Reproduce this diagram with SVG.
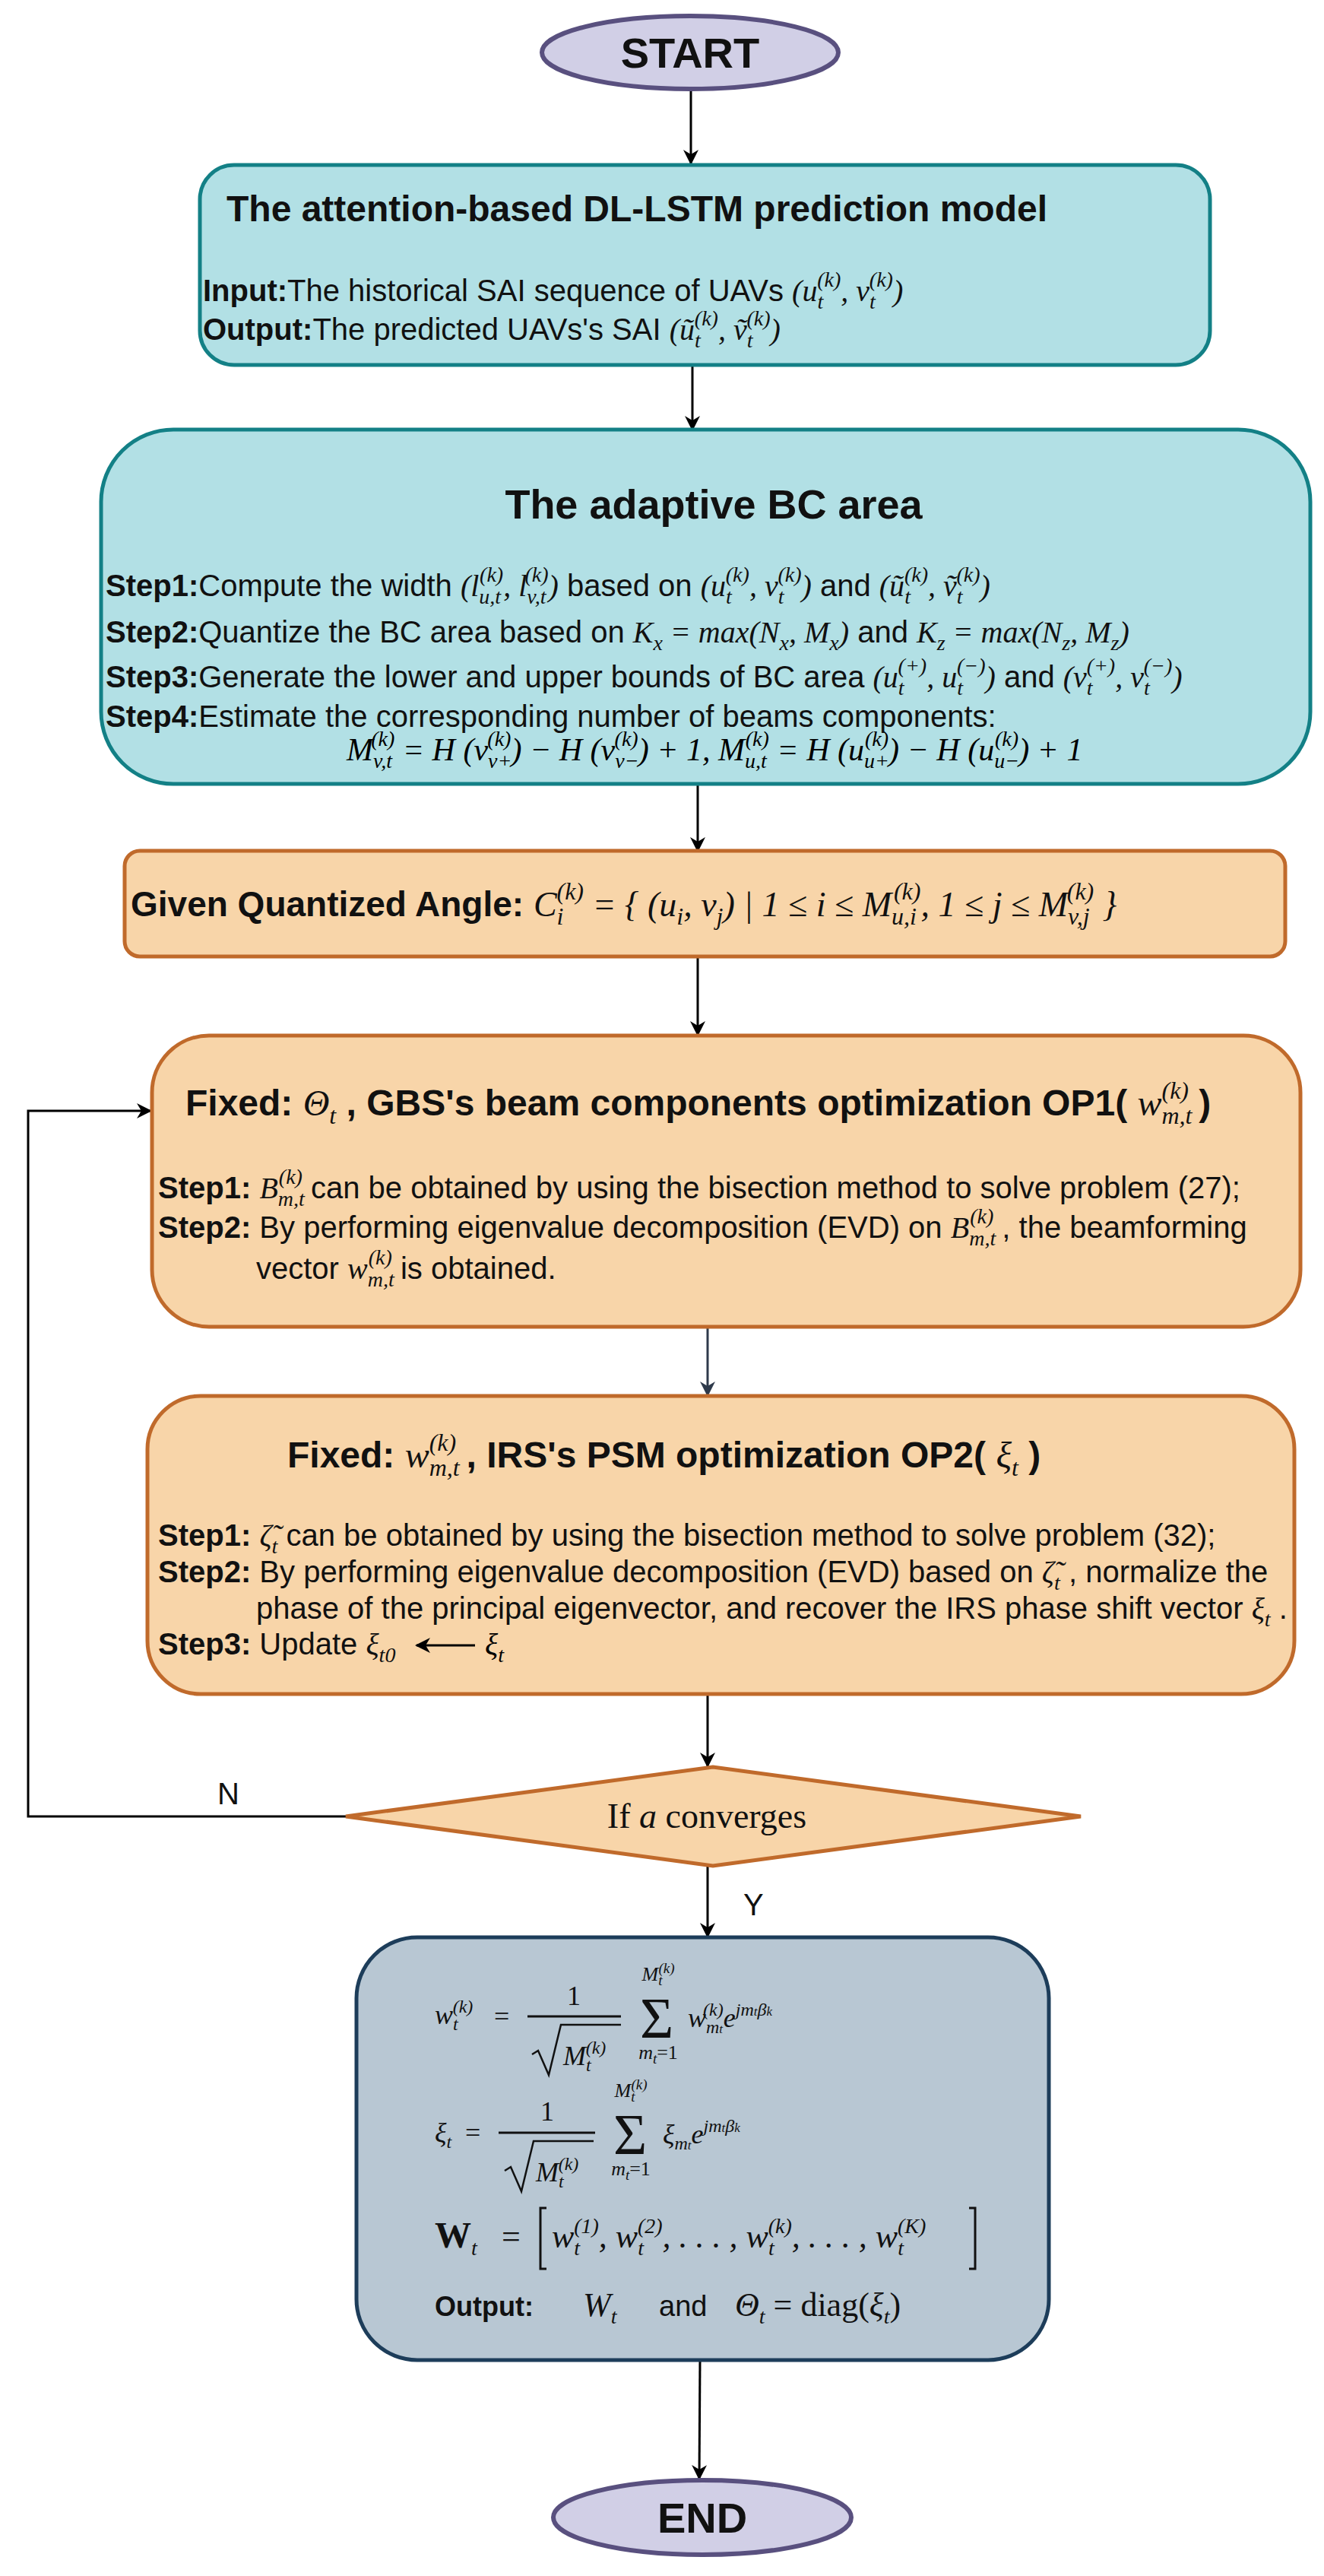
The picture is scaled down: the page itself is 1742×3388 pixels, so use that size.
<svg xmlns="http://www.w3.org/2000/svg" width="1742" height="3388" viewBox="0 0 1742 3388">
<defs>
<marker id="ah" viewBox="0 0 20 20" refX="18" refY="10" markerWidth="20" markerHeight="20" markerUnits="userSpaceOnUse" orient="auto"><path d="M0,0 L20,10 L0,20 L6,10 Z" fill="#000"/></marker>
<marker id="ah2" viewBox="0 0 20 20" refX="18" refY="10" markerWidth="20" markerHeight="20" markerUnits="userSpaceOnUse" orient="auto"><path d="M0,0 L20,10 L0,20 L6,10 Z" fill="#2e3a4b"/></marker>
<style>
.t{font-family:"Liberation Sans",Arial,sans-serif;fill:#111}
.b{font-weight:bold}
.m{font-family:"Liberation Serif","DejaVu Serif",serif;font-style:italic;font-weight:normal}
.n{font-style:normal}
.sp{font-size:24px;baseline-shift:15px}
.sb{font-size:24px;baseline-shift:-8px}
.sp2{font-size:28px;baseline-shift:19px}
.sb2{font-size:28px;baseline-shift:-10px}
.sp3{font-size:32px;baseline-shift:22px}
.sb3{font-size:32px;baseline-shift:-11px}
.teal{fill:#b2e0e5;stroke:#138086;stroke-width:5}
.org{fill:#f8d5a9;stroke:#c06a2b;stroke-width:5}
.ell{fill:#d1cfe6;stroke:#59507f;stroke-width:6}
.c{stroke:#000;stroke-width:3;fill:none}
</style>
</defs>
<g id="connectors">
<line class="c" x1="909" y1="118" x2="909" y2="215" marker-end="url(#ah)"/>
<line class="c" x1="911" y1="480" x2="911" y2="565" marker-end="url(#ah)"/>
<line class="c" x1="918" y1="1031" x2="918" y2="1119" marker-end="url(#ah)"/>
<line class="c" x1="918" y1="1258" x2="918" y2="1361" marker-end="url(#ah)"/>
<line x1="931" y1="1745" x2="931" y2="1835" stroke="#2e3a4b" stroke-width="3" marker-end="url(#ah2)"/>
<line class="c" x1="931" y1="2228" x2="931" y2="2323" marker-end="url(#ah)"/>
<polyline class="c" points="455,2389 37,2389 37,1461 198,1461" marker-end="url(#ah)"/>
<line class="c" x1="931" y1="2454" x2="931" y2="2547" marker-end="url(#ah)"/>
<line class="c" x1="921" y1="3104" x2="920" y2="3260" marker-end="url(#ah)"/>
<text class="t" x="286" y="2373" font-size="40">N</text>
<text class="t" x="978" y="2519" font-size="40">Y</text>
</g>
<g id="start">
<ellipse class="ell" cx="908" cy="69" rx="195" ry="48"/>
<text class="t b" x="908" y="89" font-size="56" text-anchor="middle">START</text>
</g>
<g id="lstm">
<rect class="teal" x="263" y="217" width="1329" height="263" rx="45"/>
<text class="t b" x="298" y="291" font-size="48">The attention-based DL-LSTM prediction model</text>
<text class="t" x="267" y="396" font-size="40"><tspan class="b">Input:</tspan>The historical SAI sequence of UAVs <tspan class="m">(u<tspan class="sb2">t</tspan><tspan class="sp2" dx="-8">(k)</tspan>, v<tspan class="sb2">t</tspan><tspan class="sp2" dx="-8">(k)</tspan>)</tspan></text>
<text class="t" x="267" y="447" font-size="40"><tspan class="b">Output:</tspan>The predicted UAVs's SAI <tspan class="m">(ũ<tspan class="sb2">t</tspan><tspan class="sp2" dx="-8">(k)</tspan>, ṽ<tspan class="sb2">t</tspan><tspan class="sp2" dx="-8">(k)</tspan>)</tspan></text>
</g>
<g id="bc">
<rect class="teal" x="133" y="565" width="1591" height="466" rx="95"/>
<text class="t b" x="939" y="682" font-size="54" text-anchor="middle">The adaptive BC area</text>
<text class="t" x="139" y="784" font-size="40"><tspan class="b">Step1:</tspan>Compute the width  <tspan class="m">(l<tspan class="sb2">u,t</tspan><tspan class="sp2" dx="-28">(k)</tspan>, l<tspan class="sb2">v,t</tspan><tspan class="sp2" dx="-28">(k)</tspan>)</tspan>  based on  <tspan class="m">(u<tspan class="sb2">t</tspan><tspan class="sp2" dx="-8">(k)</tspan>, v<tspan class="sb2">t</tspan><tspan class="sp2" dx="-8">(k)</tspan>)</tspan>  and  <tspan class="m">(ũ<tspan class="sb2">t</tspan><tspan class="sp2" dx="-8">(k)</tspan>, ṽ<tspan class="sb2">t</tspan><tspan class="sp2" dx="-8">(k)</tspan>)</tspan></text>
<text class="t" x="139" y="845" font-size="40"><tspan class="b">Step2:</tspan>Quantize the BC area based on  <tspan class="m">K<tspan class="sb2">x</tspan> = max(N<tspan class="sb2">x</tspan>, M<tspan class="sb2">x</tspan>)</tspan>  and  <tspan class="m">K<tspan class="sb2">z</tspan> = max(N<tspan class="sb2">z</tspan>, M<tspan class="sb2">z</tspan>)</tspan></text>
<text class="t" x="139" y="904" font-size="40"><tspan class="b">Step3:</tspan>Generate the lower and upper bounds of BC area  <tspan class="m">(u<tspan class="sb2">t</tspan><tspan class="sp2" dx="-8">(+)</tspan>, u<tspan class="sb2">t</tspan><tspan class="sp2" dx="-8">(−)</tspan>)</tspan> and <tspan class="m">(v<tspan class="sb2">t</tspan><tspan class="sp2" dx="-8">(+)</tspan>, v<tspan class="sb2">t</tspan><tspan class="sp2" dx="-8">(−)</tspan>)</tspan></text>
<text class="t" x="139" y="956" font-size="40"><tspan class="b">Step4:</tspan>Estimate the corresponding number of beams components:</text>
<text class="m" x="456" y="1000" font-size="42">M<tspan class="sb2">v,t</tspan><tspan class="sp2" dx="-28">(k)</tspan> = H (v<tspan class="sb2">v+</tspan><tspan class="sp2" dx="-32">(k)</tspan>) − H (v<tspan class="sb2">v−</tspan><tspan class="sp2" dx="-32">(k)</tspan>) + 1,     M<tspan class="sb2">u,t</tspan><tspan class="sp2" dx="-28">(k)</tspan> = H (u<tspan class="sb2">u+</tspan><tspan class="sp2" dx="-32">(k)</tspan>) − H (u<tspan class="sb2">u−</tspan><tspan class="sp2" dx="-32">(k)</tspan>) + 1</text>
</g>
<g id="angle">
<rect class="org" x="164" y="1119" width="1527" height="139" rx="20"/>
<text class="t" x="172" y="1205" font-size="46"><tspan class="b">Given Quantized Angle: </tspan><tspan class="m">C<tspan class="sb3">i</tspan><tspan class="sp3" dx="-9">(k)</tspan> = { (u<tspan class="sb3">i</tspan>, v<tspan class="sb3">j</tspan>) | 1 ≤ i ≤ M<tspan class="sb3">u,i</tspan><tspan class="sp3" dx="-30">(k)</tspan>, 1 ≤ j ≤ M<tspan class="sb3">v,j</tspan><tspan class="sp3" dx="-30">(k)</tspan> }</tspan></text>
</g>
<g id="op1">
<rect class="org" x="200" y="1362" width="1511" height="383" rx="75"/>
<text class="t b" x="244" y="1467" font-size="48">Fixed: <tspan class="m" font-weight="bold">Θ</tspan><tspan class="m sb3">t</tspan> ,  GBS's beam components optimization  OP1( <tspan class="m">w<tspan class="sb3">m,t</tspan><tspan class="sp3" dx="-40">(k)</tspan></tspan> )</text>
<text class="t" x="208" y="1576" font-size="40"><tspan class="b">Step1:</tspan>  <tspan class="m">B<tspan class="sb2">m,t</tspan><tspan class="sp2" dx="-34">(k)</tspan></tspan>  can be obtained  by using the bisection method to solve  problem (27);</text>
<text class="t" x="208" y="1628" font-size="40"><tspan class="b">Step2:</tspan> By performing eigenvalue decomposition (EVD) on <tspan class="m">B<tspan class="sb2">m,t</tspan><tspan class="sp2" dx="-34">(k)</tspan></tspan> , the beamforming</text>
<text class="t" x="337" y="1682" font-size="40">vector  <tspan class="m">w<tspan class="sb2">m,t</tspan><tspan class="sp2" dx="-34">(k)</tspan></tspan> is obtained.</text>
</g>
<g id="op2">
<rect class="org" x="194" y="1836" width="1509" height="392" rx="70"/>
<text class="t b" x="378" y="1930" font-size="48">Fixed: <tspan class="m">w<tspan class="sb3">m,t</tspan><tspan class="sp3" dx="-40">(k)</tspan></tspan>  ,  IRS's PSM optimization  OP2(  <tspan class="m">ξ<tspan class="sb3">t</tspan></tspan> )</text>
<text class="t" x="208" y="2033" font-size="40"><tspan class="b">Step1:</tspan>  <tspan class="m">ζ̃<tspan class="sb2">t</tspan></tspan>  can be obtained  by using the bisection method to  solve  problem (32);</text>
<text class="t" x="208" y="2081" font-size="40"><tspan class="b">Step2:</tspan> By performing eigenvalue decomposition (EVD) based on  <tspan class="m">ζ̃<tspan class="sb2">t</tspan></tspan> , normalize the</text>
<text class="t" x="337" y="2129" font-size="40">phase of the principal eigenvector, and recover the IRS phase shift vector <tspan class="m">ξ<tspan class="sb2">t</tspan></tspan> .</text>
<text class="t" x="208" y="2176" font-size="40"><tspan class="b">Step3:</tspan> Update  <tspan class="m">ξ<tspan class="sb2">t0</tspan></tspan></text>
<line x1="625" y1="2164" x2="548" y2="2164" stroke="#000" stroke-width="3" marker-end="url(#ah)"/>
<text class="m" x="638" y="2176" font-size="40">ξ<tspan class="sb2">t</tspan></text>
</g>
<g id="decision">
<polygon class="org" points="455,2389 938,2324 1422,2389 938,2454"/>
<text x="930" y="2404" font-family="Liberation Serif,serif" font-size="46" text-anchor="middle" fill="#111">If <tspan font-style="italic">a</tspan> converges</text>
</g>
<g id="result">
<rect x="469" y="2548" width="911" height="556" rx="80" fill="#b8c7d3" stroke="#1d3d5a" stroke-width="5"/>
<g class="m" font-size="36" fill="#111">
<text x="572" y="2662">w<tspan class="sb">t</tspan><tspan class="sp" dx="-7">(k)</tspan></text>
<text x="650" y="2664" class="n">=</text>
<text x="755" y="2637" class="n" text-anchor="middle">1</text>
<line x1="694" y1="2652" x2="817" y2="2652" stroke="#111" stroke-width="3"/>
<path d="M700,2702 l8,-5 l14,32 l16,-66 h79" fill="none" stroke="#111" stroke-width="2.5"/>
<text x="741" y="2716">M<tspan class="sb">t</tspan><tspan class="sp" dx="-7">(k)</tspan></text>
<text x="864" y="2680" font-size="76" class="n" text-anchor="middle">Σ</text>
<text x="866" y="2605" font-size="26" text-anchor="middle">M<tspan font-size="19" baseline-shift="-6px">t</tspan><tspan font-size="19" baseline-shift="10px" dx="-5">(k)</tspan></text>
<text x="866" y="2708" font-size="26" text-anchor="middle">m<tspan font-size="19" baseline-shift="-6px">t</tspan><tspan class="n">=1</tspan></text>
<text x="905" y="2666">w<tspan class="sb">m<tspan font-size="17">t</tspan></tspan><tspan class="sp" dx="-26">(k)</tspan>e<tspan class="sp">jm<tspan font-size="17">t</tspan>β<tspan font-size="17">k</tspan></tspan></text>

<text x="572" y="2817">ξ<tspan class="sb">t</tspan></text>
<text x="612" y="2817" class="n">=</text>
<text x="720" y="2789" class="n" text-anchor="middle">1</text>
<line x1="656" y1="2805" x2="783" y2="2805" stroke="#111" stroke-width="3"/>
<path d="M664,2855 l8,-5 l14,32 l16,-66 h79" fill="none" stroke="#111" stroke-width="2.5"/>
<text x="705" y="2869">M<tspan class="sb">t</tspan><tspan class="sp" dx="-7">(k)</tspan></text>
<text x="829" y="2833" font-size="76" class="n" text-anchor="middle">Σ</text>
<text x="830" y="2758" font-size="26" text-anchor="middle">M<tspan font-size="19" baseline-shift="-6px">t</tspan><tspan font-size="19" baseline-shift="10px" dx="-5">(k)</tspan></text>
<text x="830" y="2861" font-size="26" text-anchor="middle">m<tspan font-size="19" baseline-shift="-6px">t</tspan><tspan class="n">=1</tspan></text>
<text x="872" y="2819">ξ<tspan class="sb">m<tspan font-size="17">t</tspan></tspan>e<tspan class="sp">jm<tspan font-size="17">t</tspan>β<tspan font-size="17">k</tspan></tspan></text>

<text x="572" y="2956" font-size="48" font-weight="bold" class="n">W<tspan class="m sb2">t</tspan></text>
<text x="660" y="2956" font-size="44" class="n">=</text>
<path d="M719,2904 h-8 v80 h8 M1275,2904 h8 v80 h-8" fill="none" stroke="#111" stroke-width="3"/>
<text x="726" y="2956" font-size="44">w<tspan class="sb2">t</tspan><tspan class="sp2" dx="-8">(1)</tspan>, w<tspan class="sb2">t</tspan><tspan class="sp2" dx="-8">(2)</tspan>, . . . , w<tspan class="sb2">t</tspan><tspan class="sp2" dx="-8">(k)</tspan>, . . . , w<tspan class="sb2">t</tspan><tspan class="sp2" dx="-8">(K)</tspan></text>

<text x="572" y="3046" font-size="36" font-weight="bold" font-family="Liberation Sans,sans-serif" font-style="normal">Output:</text>
<text x="767" y="3046" font-size="44">W<tspan class="sb2">t</tspan></text>
<text x="867" y="3046" font-size="38" font-family="Liberation Sans,sans-serif" font-style="normal">and</text>
<text x="967" y="3046" font-size="44">Θ<tspan class="sb2">t</tspan><tspan class="n"> = diag(</tspan>ξ<tspan class="sb2">t</tspan><tspan class="n">)</tspan></text>
</g>
</g>
<g id="end">
<ellipse class="ell" cx="924" cy="3311" rx="196" ry="49"/>
<text class="t b" x="924" y="3331" font-size="56" text-anchor="middle">END</text>
</g>
</svg>
